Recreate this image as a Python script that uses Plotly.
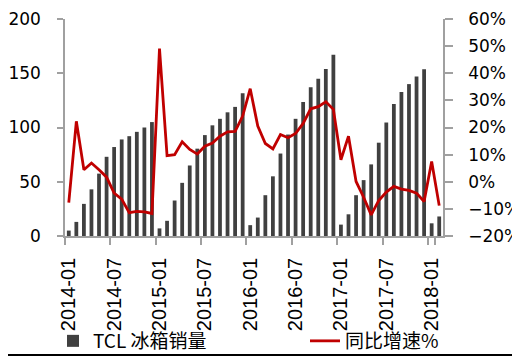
import plotly.graph_objects as go

# ---- data ----
months = [f"{y}-{m:02d}" for y in range(2014, 2019) for m in range(1, 13)][:50]
tick_labels = ["2014-01", "2014-07", "2015-01", "2015-07", "2016-01",
               "2016-07", "2017-01", "2017-07", "2018-01"]

sales = [5, 13, 29.6, 43, 57.5, 73, 82, 89, 92, 96, 100, 105,
         7, 14, 32.7, 49, 65, 80.5, 93, 102, 108, 114, 119, 131.5,
         10, 17, 37.6, 55, 76, 93.5, 108, 123.5, 137, 145, 154, 167,
         10.5, 20, 37.6, 51.5, 66, 86, 104.6, 121.6, 132.7, 140, 147, 153.7,
         11.7, 18]

yoy = [-7.7, 22.3, 4.4, 6.9, 4.4, 1.7, -4.2, -6.4, -11.4, -10.9, -11.1, -11.7,
       49.1, 9.6, 10.0, 14.7, 11.9, 10.2, 13.1, 14.3, 16.8, 18.4, 18.6, 24.2,
       34.3, 20.5, 14.1, 12.1, 17.4, 16.2, 17.8, 21.5, 26.9, 27.7, 29.5, 26.7,
       8.1, 16.8, 0.1, -5.7, -12.2, -6.9, -3.8, -1.7, -2.7, -3.2, -4.2, -7.3,
       7.5, -8.8]

name_bar = "TCL 冰箱销量"
name_line = "同比增速%"

# ---- figure (page body has an 8px margin, so the figure is 8px smaller) ----
W, H = 512, 349
ML, MR, MT, MB = 57, 77, 11, 121
PW, PH = W - ML - MR, H - MT - MB
BOTTOM = MT + PH  # pixel row of the x axis inside the figure

axis_grey = "#A0A0A0"
legend_font = dict(family="Noto Sans CJK SC", size=19, color="#000000")
legend_y = (BOTTOM - 333) / PH

fig = go.Figure()
fig.add_trace(go.Bar(x=months, y=sales, name=name_bar, width=0.5,
                     marker=dict(color="#404040", line=dict(width=0)),
                     yaxis="y", legend="legend"))
fig.add_trace(go.Scatter(x=months, y=yoy, name=name_line, mode="lines",
                         line=dict(color="#C00000", width=2.8),
                         yaxis="y2", legend="legend2"))

fig.update_layout(
    width=W, height=H,
    margin=dict(l=ML, r=MR, t=MT, b=MB, autoexpand=False),
    paper_bgcolor="white", plot_bgcolor="white",
    showlegend=True,
    legend=dict(orientation="h", x=(45 - ML) / PW, xanchor="left",
                y=legend_y, yanchor="middle", font=legend_font,
                bgcolor="rgba(0,0,0,0)"),
    legend2=dict(orientation="h", x=(297 - ML) / PW, xanchor="left",
                 y=legend_y, yanchor="middle", font=legend_font,
                 bgcolor="rgba(0,0,0,0)"),
    xaxis=dict(type="category", range=[-0.5, 49.5],
               tickmode="array", tickvals=[months[i] for i in range(0, 50, 6)],
               ticktext=tick_labels, tickangle=-90, tickson="boundaries",
               ticks="outside", ticklen=7, tickcolor=axis_grey, tickwidth=1.5,
               showline=True, linecolor=axis_grey, linewidth=1.5,
               showgrid=False, zeroline=False, ticklabelstandoff=12,
               tickfont=dict(family="Liberation Sans", size=20, color="#000000")),
    yaxis=dict(range=[0, 200], dtick=50, tick0=0,
               showline=True, linecolor=axis_grey, linewidth=1.5,
               ticks="outside", ticklen=6, tickcolor=axis_grey, tickwidth=1.5,
               showgrid=False, zeroline=False, ticklabelstandoff=13,
               tickfont=dict(family="DejaVu Sans", size=17, color="#000000")),
    yaxis2=dict(range=[-20, 60], dtick=10, tick0=-20, overlaying="y", side="right",
                ticksuffix="%",
                showline=True, linecolor=axis_grey, linewidth=1.5,
                ticks="outside", ticklen=8, tickcolor=axis_grey, tickwidth=1.5,
                showgrid=False, zeroline=False, ticklabelstandoff=12,
                tickfont=dict(family="DejaVu Sans", size=17, color="#000000")),
    shapes=[dict(type="line", xref="paper", yref="paper",
                 x0=-ML / PW, x1=1 + MR / PW,
                 y0=(BOTTOM - 347) / PH, y1=(BOTTOM - 347) / PH,
                 line=dict(color="#000000", width=2))],
)

fig.write_html("out.html")
